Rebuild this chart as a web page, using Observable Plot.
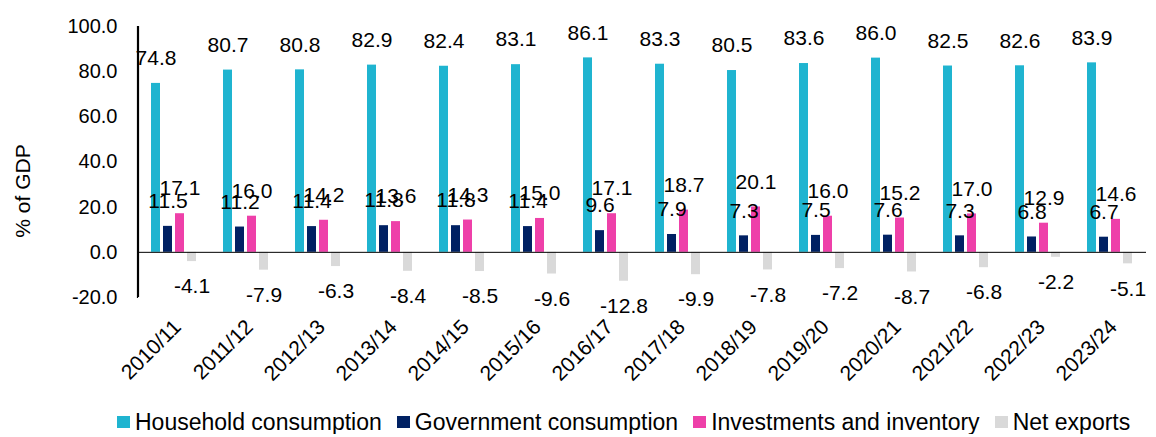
<!DOCTYPE html>
<html>
<head>
<meta charset="utf-8">
<script src="https://cdn.jsdelivr.net/npm/d3@7"></script>
<script src="https://cdn.jsdelivr.net/npm/@observablehq/plot@0.6"></script>
<style>
  body { margin: 0; background: #fff; font-family: "Liberation Sans", Arial, sans-serif; }
  #legend { display: flex; align-items: center; margin-top: 10px; padding-left: 117px; font-size: 23px; line-height: 24px; color: #000; white-space: nowrap; }
  #legend .item { display: flex; align-items: center; margin-right: 15px; }
  #legend .sw { width: 13px; height: 12px; margin-right: 5px; }
</style>
</head>
<body>
<div id="chart"></div>
<div id="legend"></div>
<script>
const years = ["2010/11","2011/12","2012/13","2013/14","2014/15","2015/16","2016/17","2017/18","2018/19","2019/20","2020/21","2021/22","2022/23","2023/24"];
const seriesNames = ["Household consumption","Government consumption","Investments and inventory","Net exports"];
const household = [74.8, 80.7, 80.8, 82.9, 82.4, 83.1, 86.1, 83.3, 80.5, 83.6, 86.0, 82.5, 82.6, 83.9];
const government = [11.5, 11.2, 11.4, 11.8, 11.8, 11.4, 9.6, 7.9, 7.3, 7.5, 7.6, 7.3, 6.8, 6.7];
const investments = [17.1, 16.0, 14.2, 13.6, 14.3, 15.0, 17.1, 18.7, 20.1, 16.0, 15.2, 17.0, 12.9, 14.6];
const netExports = [-4.1, -7.9, -6.3, -8.4, -8.5, -9.6, -12.8, -9.9, -7.8, -7.2, -8.7, -6.8, -2.2, -5.1];
const yTicks = [-20, 0, 20, 40, 60, 80, 100];
const colors = ["#1fb4d0", "#002163", "#ee40a9", "#d9d9d9"];

const seriesValues = [household, government, investments, netExports];
const data = years.flatMap((yr, i) => seriesValues.map((arr, j) => ({year: yr, series: seriesNames[j], value: arr[i]})));
const pos = data.filter(d => d.value >= 0);
const neg = data.filter(d => d.value < 0);

const chart = Plot.plot({
  width: 1156,
  height: 400,
  marginTop: 26,
  marginBottom: 103,
  marginLeft: 138,
  marginRight: 10,
  style: {fontFamily: "'Liberation Sans', Arial, sans-serif", fontSize: "20px", color: "#000", background: "#fff"},
  fx: {domain: years, paddingInner: 0, paddingOuter: 0, label: null},
  x: {domain: seriesNames, paddingInner: 0.23, paddingOuter: 0.885, axis: null},
  y: {domain: [-20, 100], label: null},
  color: {domain: seriesNames, range: colors},
  marks: [
    Plot.barY(data, {fx: "year", x: "series", y: "value", fill: "series"}),
    Plot.ruleY([0], {stroke: "#000", strokeWidth: 1}),
    Plot.frame({anchor: "left", stroke: "black", strokeWidth: 1.2, facetAnchor: "left", dx: -1}),
    Plot.frame({stroke: "none", facetAnchor: "left"}),
    Plot.frame({anchor: "left", stroke: "none", dx: 4}),
    Plot.tickX([seriesNames[0]], {fx: () => years[0], x: d => d, stroke: "black", strokeWidth: 1.2, dx: -17.5}),
    Plot.text(pos, {fx: "year", x: "series", y: "value", text: d => d.value.toFixed(1), dy: -25, fontSize: 21, fill: "#000"}),
    Plot.text(neg, {fx: "year", x: "series", y: "value", text: d => d.value.toFixed(1), dy: 25, fontSize: 21, fill: "#000"}),
    Plot.axisY({ticks: yTicks, tickFormat: d => d.toFixed(1), tickSize: 0, tickPadding: 21, fontSize: 20, label: null}),
    Plot.axisFx({anchor: "bottom", tickRotate: -45, tickSize: 0, tickPadding: 26, fontSize: 21, label: null, dx: 3}),
    Plot.text(["% of GDP"], {frameAnchor: "left", textAnchor: "middle", rotate: -90, dx: -115, dy: 29, fontSize: 21, fill: "#000", facetAnchor: "left"})
  ]
});
document.getElementById("chart").appendChild(chart);

const legend = document.getElementById("legend");
seriesNames.forEach((name, i) => {
  const item = document.createElement("div");
  item.className = "item";
  const sw = document.createElement("span");
  sw.className = "sw";
  sw.style.background = colors[i];
  const label = document.createElement("span");
  label.textContent = name;
  item.appendChild(sw);
  item.appendChild(label);
  legend.appendChild(item);
});
</script>
</body>
</html>
